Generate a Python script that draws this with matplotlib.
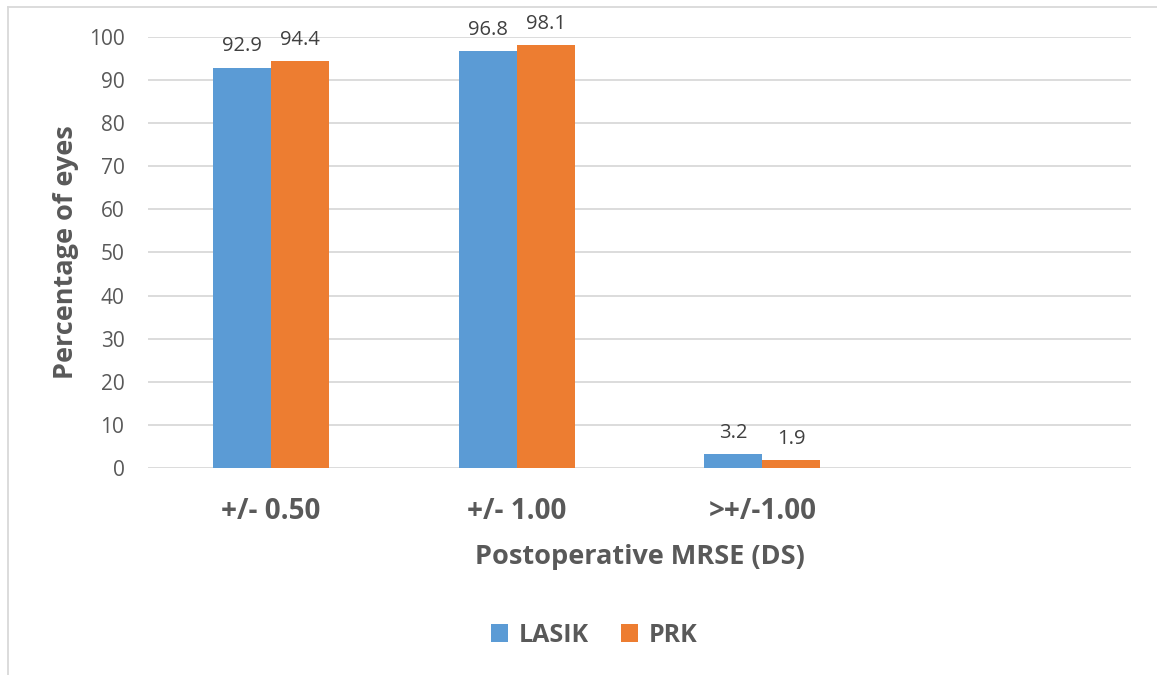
import numpy as np
import matplotlib.pyplot as plt
from matplotlib.lines import Line2D

# data ---------------------------------------------------------------
categories = ['+/- 0.50', '+/- 1.00', '>+/-1.00', '']
lasik = [92.9, 96.8, 3.2]
prk = [94.4, 98.1, 1.9]

plt.rcParams['font.family'] = ['Open Sans', 'DejaVu Sans']
txt = '#595959'

fig = plt.figure(figsize=(11.57, 6.75), dpi=100)
ax = fig.add_axes([148/1157, 1-468/675, (1131-148)/1157, (468-37)/675])

w = 0.236
x = np.arange(len(lasik))
b1 = ax.bar(x - w/2, lasik, w, color='#5B9BD5', label='LASIK', zorder=3)
b2 = ax.bar(x + w/2, prk, w, color='#ED7D31', label='PRK', zorder=3)

for bars in (b1, b2):
    for r in bars:
        ax.annotate(f'{r.get_height():.1f}', (r.get_x() + r.get_width()/2, r.get_height()),
                    xytext=(0, 8), textcoords='offset points', ha='center', va='bottom',
                    fontsize=14.5, color='#404040', annotation_clip=False)

ax.set_xlim(-0.5, 3.5)
ax.set_ylim(0, 100)
ax.set_yticks(range(0, 101, 10))
ax.set_xticks(range(len(categories)))
ax.set_xticklabels(categories, fontsize=20, fontweight='bold', color=txt)
ax.tick_params(axis='y', labelsize=15, colors=txt, length=0, pad=17)
ax.tick_params(axis='x', length=0, pad=21)
ax.grid(axis='y', color='#d9d9d9', lw=1.3, zorder=0)
for s in ax.spines.values():
    s.set_visible(False)

ax.set_ylabel('Percentage of eyes', fontsize=19.5, fontweight='bold', color=txt, labelpad=7)
ax.set_xlabel('Postoperative MRSE (DS)', fontsize=19.5, fontweight='bold', color=txt, labelpad=13)

leg = fig.legend(handles=[b1, b2], loc='center', bbox_to_anchor=(594/1157, 1-635/675), ncol=2,
                 frameon=False, fontsize=18, handlelength=0.7, handleheight=0.7,
                 handletextpad=0.4, columnspacing=1.3)
for t in leg.get_texts():
    t.set_color(txt)
    t.set_fontweight('bold')

# outer chart border (only top and left visible in the crop)
fig.add_artist(Line2D([8/1157, 8/1157], [0, 1-7/675], color='#d9d9d9', lw=1.3, transform=fig.transFigure))
fig.add_artist(Line2D([8/1157, 1], [1-7/675, 1-7/675], color='#d9d9d9', lw=1.3, transform=fig.transFigure))

fig.savefig('out.png', dpi=100)
